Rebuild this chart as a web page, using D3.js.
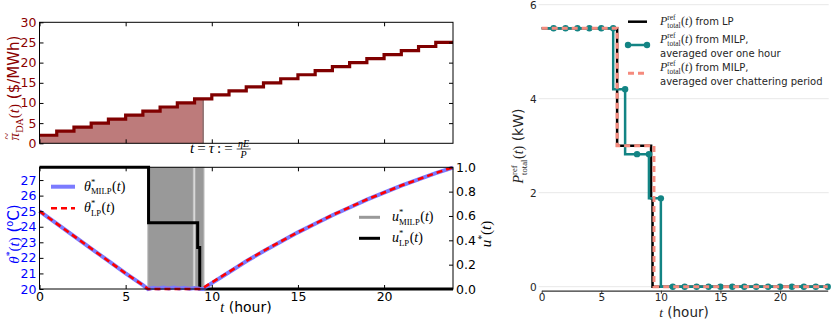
<!DOCTYPE html>
<html>
<head>
<meta charset="utf-8">
<script src="https://cdnjs.cloudflare.com/ajax/libs/d3/7.8.5/d3.min.js"></script>
<style>
  body { margin: 0; background: #fff; }
  svg { display: block; }
  svg text { white-space: pre; }
</style>
</head>
<body>
<script>
// * Data

// day-ahead price, one value per hour (0..23)
const priceDA = [2, 3, 4, 5, 6, 7, 8, 9, 10, 11, 12, 13, 14, 15, 16, 17, 18, 19, 20, 21, 22, 23, 24, 25];
const tauHour = 9.5;

// room temperature, LP solution
const thetaLPHours = [0, 1, 2, 3, 4, 5, 6, 6.3, 7, 8, 9, 9.4, 10, 11, 12, 13, 14, 15, 16, 17, 18, 19, 20, 21, 22, 23, 24];
const thetaLP = [25, 24.2, 23.4, 22.6, 21.8, 21.0, 20.25, 20, 20, 20, 20, 20, 20.42, 21.1, 21.8, 22.45, 23.05, 23.65, 24.2, 24.75, 25.25, 25.75, 26.2, 26.65, 27.05, 27.45, 27.82];

// room temperature, MILP solution (chatters a little at the lower bound)
const thetaMILPHours = [0, 1, 2, 3, 4, 5, 6, 6.3, 6.6, 6.9, 7.2, 7.5, 7.8, 8.1, 8.4, 8.7, 9.0, 9.3, 9.5, 10, 11, 12, 13, 14, 15, 16, 17, 18, 19, 20, 21, 22, 23, 24];
const thetaMILP = [25, 24.2, 23.4, 22.6, 21.8, 21.0, 20.25, 20, 20.08, 20.03, 20.1, 20.04, 20.09, 20.03, 20.08, 20.02, 20.06, 20.02, 20, 20.38, 21.08, 21.78, 22.43, 23.04, 23.64, 24.19, 24.74, 25.24, 25.74, 26.19, 26.64, 27.04, 27.44, 27.8];

// MILP on/off control: "on" intervals (hours)
const uMILPOnStart = [6.28, 9.02];
const uMILPOnEnd = [8.93, 9.55];

// LP control
const uLPHours = [0, 6.33, 9.18, 9.3, 24];
const uLP = [1, 0.545, 0.34, 0, 0];

// total reference power (kW)
const pLPHours = [0, 6.33, 9.18, 9.3, 24];
const pLP = [5.5, 3.0, 1.88, 0, 0];

const pHourlyHours = [0, 1, 2, 3, 4, 5, 6, 7, 8, 9, 10, 11, 12, 13, 14, 15, 16, 17, 18, 19, 20, 21, 22, 23, 24];
const pHourly = [5.5, 5.5, 5.5, 5.5, 5.5, 5.5, 5.5, 4.2, 2.82, 2.82, 1.88, 0, 0, 0, 0, 0, 0, 0, 0, 0, 0, 0, 0, 0, 0];

const pChatterHours = [0, 6.33, 9.42, 24];
const pChatter = [5.5, 3.0, 0, 0];

const xTicks = [0, 5, 10, 15, 20];

// * SVG canvas
const width = 831;
const height = 321;

const svg = d3.select("body")
	.append("svg")
	.attr("width", width)
	.attr("height", height);

const SERIF = "'Liberation Serif', 'DejaVu Serif', serif";
const SANS = "'DejaVu Sans', sans-serif";

// lays out a small math-like label piece by piece, returns group + width
// piece kinds: i = italic serif, r = roman serif, s = sans, stack = sup over sub, sup, sub, tilde-pi
function mathText(parent, pieces, size, color) {
	const g = parent.append("g").attr("fill", color);
	let x = 0;
	pieces.forEach((p) => {
		const fs = p.size || size;
		if (p.k === "stack") {
			const a = g.append("text").attr("x", x).attr("y", -fs * 0.42)
				.style("font-family", SERIF).style("font-size", fs * 0.62 + "px").text(p.sup);
			const b = g.append("text").attr("x", x).attr("y", fs * 0.26)
				.style("font-family", SERIF).style("font-size", fs * 0.62 + "px").text(p.sub);
			x += Math.max(a.node().getComputedTextLength(), b.node().getComputedTextLength()) + 0.5;
		} else if (p.k === "sup") {
			const a = g.append("text").attr("x", x).attr("y", -fs * 0.4)
				.style("font-family", p.f || SANS).style("font-size", fs * 0.65 + "px").text(p.t);
			x += a.node().getComputedTextLength();
		} else if (p.k === "sub") {
			const a = g.append("text").attr("x", x).attr("y", fs * 0.25)
				.style("font-family", SERIF).style("font-size", fs * 0.68 + "px").text(p.t);
			x += a.node().getComputedTextLength();
		} else if (p.k === "tilde") {
			const a = g.append("text").attr("x", x).attr("y", 0)
				.style("font-family", SERIF).style("font-style", "italic")
				.style("font-size", fs + "px").text(p.t);
			const w = a.node().getComputedTextLength();
			g.append("text").attr("x", x + w / 2 + 0.5).attr("y", -fs * 0.55).attr("text-anchor", "middle")
				.style("font-family", SERIF).style("font-size", fs * 0.8 + "px").text("~");
			x += w;
		} else {
			const a = g.append("text").attr("x", x).attr("y", 0)
				.style("font-family", p.k === "s" ? SANS : SERIF)
				.style("font-style", p.k === "i" ? "italic" : "normal")
				.style("font-size", fs + "px").text(p.t);
			x += a.node().getComputedTextLength();
		}
	});
	return { g, width: x };
}

// * TOP-LEFT: price
const xL = d3.scaleLinear().domain([0, 24]).range([39.5, 453]);
const yPrice = d3.scaleLinear().domain([0, 30]).range([143.3, 22.3]);
const priceRed = "#8b0000";

const priceStep = priceDA.map((v, i) => [i, v]).concat([[24, priceDA[priceDA.length - 1]]]);
const shaded = priceStep.filter((d) => d[0] < tauHour).concat([[tauHour, priceDA[Math.floor(tauHour)]]]);

svg.append("path")
	.datum(shaded)
	.attr("d", d3.area().curve(d3.curveStepAfter)
		.x((d) => xL(d[0])).y0(yPrice(0)).y1((d) => yPrice(d[1])))
	.attr("fill", "#bd7b7b");
svg.append("line")
	.attr("x1", xL(tauHour)).attr("x2", xL(tauHour))
	.attr("y1", yPrice(0)).attr("y2", yPrice(priceDA[Math.floor(tauHour)]))
	.attr("stroke", "#8c7070").attr("stroke-width", 1.5);

svg.append("path")
	.datum(priceStep)
	.attr("d", d3.line().curve(d3.curveStepAfter).x((d) => xL(d[0])).y((d) => yPrice(d[1])))
	.attr("fill", "none")
	.attr("stroke", "#800000")
	.attr("stroke-width", 3.2);

function classicAxes(g, axis, color) {
	g.call(axis);
	g.select(".domain").remove();
	g.selectAll(".tick line").attr("stroke", "#000");
	g.selectAll(".tick text")
		.attr("fill", color)
		.style("font-family", SANS)
		.style("font-size", "12.5px");
}

svg.append("g").attr("transform", `translate(${xL(0)},0)`)
	.call((g) => classicAxes(g, d3.axisLeft(yPrice).tickValues([0, 5, 10, 15, 20, 25, 30]).tickSize(-4).tickPadding(3), priceRed));
svg.append("g").attr("transform", `translate(${xL(24)},0)`)
	.call((g) => classicAxes(g, d3.axisRight(yPrice).tickValues([5, 10, 15, 20, 25]).tickSize(-4).tickFormat(""), "#000"));
svg.append("g").attr("transform", `translate(0,${yPrice(0)})`)
	.call((g) => classicAxes(g, d3.axisBottom(xL).tickValues(xTicks).tickSize(-4).tickFormat(""), "#000"));
svg.append("g").attr("transform", `translate(0,${yPrice(30)})`)
	.call((g) => classicAxes(g, d3.axisTop(xL).tickValues(xTicks).tickSize(-4).tickFormat(""), "#000"));
svg.append("rect")
	.attr("x", xL(0)).attr("y", yPrice(30))
	.attr("width", xL(24) - xL(0)).attr("height", yPrice(0) - yPrice(30))
	.attr("fill", "none").attr("stroke", "#000").attr("stroke-width", 1);

// y label (rotated)
{
	const lab = mathText(svg.append("g"), [
		{ k: "tilde", t: "\u03C0" }, { k: "sub", t: "DA" }, { k: "r", t: "(" }, { k: "i", t: "t" }, { k: "r", t: ")" },
		{ k: "s", t: " ($/MWh)" }], 15, priceRed);
	lab.g.attr("transform", `translate(19,${88 + lab.width / 2}) rotate(-90)`);
}

// t = tau := eta E / P
{
	const g = svg.append("g").attr("transform", "translate(190,153)");
	const m = mathText(g, [{ k: "i", t: "t" }, { k: "r", t: "\u2009=\u2009" }, { k: "i", t: "\u03C4" },
		{ k: "r", t: "\u2009:\u2009=\u2009" }], 15, "#000");
	const fx = m.width + 1;
	g.append("text").attr("x", fx + 7).attr("y", -6).attr("text-anchor", "middle")
		.style("font-family", SERIF).style("font-style", "italic").style("font-size", "10px").text("\u03B7E");
	g.append("line").attr("x1", fx).attr("x2", fx + 14).attr("y1", -4).attr("y2", -4)
		.attr("stroke", "#000").attr("stroke-width", 0.7);
	g.append("text").attr("x", fx + 7).attr("y", 4.5).attr("text-anchor", "middle")
		.style("font-family", SERIF).style("font-style", "italic").style("font-size", "10px").text("P");
}

// * BOTTOM-LEFT: temperature and control
const yTheta = d3.scaleLinear().domain([20, 27.82]).range([289, 167.3]);
const yU = d3.scaleLinear().domain([0, 1]).range([289, 167.3]);

// MILP control, chattering so fast it reads as a grey block
uMILPOnStart.forEach((s, i) => {
	svg.append("rect")
		.attr("x", xL(s)).attr("y", yU(1))
		.attr("width", xL(uMILPOnEnd[i]) - xL(s)).attr("height", yU(0) - yU(1))
		.attr("fill", "#999999")
		.attr("stroke", "#c4c4c4").attr("stroke-width", 1);
});

svg.append("path")
	.datum(uLPHours.map((h, i) => [h, uLP[i]]))
	.attr("d", d3.line().curve(d3.curveStepAfter).x((d) => xL(d[0])).y((d) => yU(d[1])))
	.attr("fill", "none").attr("stroke", "#000").attr("stroke-width", 3);

svg.append("path")
	.datum(thetaMILPHours.map((h, i) => [h, thetaMILP[i]]))
	.attr("d", d3.line().x((d) => xL(d[0])).y((d) => yTheta(d[1])))
	.attr("fill", "none").attr("stroke", "#7b7bff").attr("stroke-width", 4);

svg.append("path")
	.datum(thetaLPHours.map((h, i) => [h, thetaLP[i]]))
	.attr("d", d3.line().x((d) => xL(d[0])).y((d) => yTheta(d[1])))
	.attr("fill", "none").attr("stroke", "#ff0000").attr("stroke-width", 2.6)
	.attr("stroke-dasharray", "6,4");

svg.append("g").attr("transform", `translate(${xL(0)},0)`)
	.call((g) => classicAxes(g, d3.axisLeft(yTheta).tickValues([20, 21, 22, 23, 24, 25, 26, 27]).tickSize(-4).tickPadding(3), "#0000ff"));
svg.append("g").attr("transform", `translate(${xL(24)},0)`)
	.call((g) => classicAxes(g, d3.axisRight(yU).tickValues([0, 0.2, 0.4, 0.6, 0.8, 1]).tickSize(-4).tickPadding(3).tickFormat(d3.format(".1f")), "#000"));
svg.append("g").attr("transform", `translate(0,${yU(0)})`)
	.call((g) => classicAxes(g, d3.axisBottom(xL).tickValues(xTicks).tickSize(-4).tickPadding(3), "#000"));
svg.append("g").attr("transform", `translate(0,${yU(1)})`)
	.call((g) => classicAxes(g, d3.axisTop(xL).tickValues(xTicks).tickSize(-4).tickFormat(""), "#000"));
svg.append("rect")
	.attr("x", xL(0)).attr("y", yU(1))
	.attr("width", xL(24) - xL(0)).attr("height", yU(0) - yU(1))
	.attr("fill", "none").attr("stroke", "#000").attr("stroke-width", 1);

// labels
{
	const lab = mathText(svg.append("g"), [
		{ k: "i", t: "\u03B8" }, { k: "sup", t: "*", f: SERIF }, { k: "r", t: "(" }, { k: "i", t: "t" }, { k: "r", t: ")" },
		{ k: "s", t: " (" }, { k: "sup", t: "o" }, { k: "s", t: "C)" }], 15, "#0000ff");
	lab.g.attr("transform", `translate(19,${234 + lab.width / 2}) rotate(-90)`);
}
{
	const lab = mathText(svg.append("g"), [
		{ k: "i", t: "u" }, { k: "sup", t: "*", f: SERIF }, { k: "r", t: "(" }, { k: "i", t: "t" }, { k: "r", t: ")" }], 15, "#000");
	lab.g.attr("transform", `translate(491,${234 + lab.width / 2}) rotate(-90)`);
}
{
	const lab = mathText(svg.append("g"), [{ k: "i", t: "t" }, { k: "s", t: " (hour)" }], 14, "#000");
	lab.g.attr("transform", `translate(${246 - lab.width / 2},312)`);
}

// legends
function legendEntry(x, y, sample, pieces) {
	const g = svg.append("g").attr("transform", `translate(${x},${y})`);
	sample(g);
	const t = mathText(g, pieces, 14, "#000");
	t.g.attr("transform", "translate(33,4)");
}
legendEntry(51, 186.7, (g) => g.append("line").attr("x1", 0).attr("x2", 24)
	.attr("stroke", "#7b7bff").attr("stroke-width", 4),
	[{ k: "i", t: "\u03B8" }, { k: "stack", sup: "*", sub: "MILP" }, { k: "r", t: "(" }, { k: "i", t: "t" }, { k: "r", t: ")" }]);
legendEntry(51, 208.3, (g) => g.append("line").attr("x1", 0).attr("x2", 24)
	.attr("stroke", "#ff0000").attr("stroke-width", 2.6).attr("stroke-dasharray", "6,4"),
	[{ k: "i", t: "\u03B8" }, { k: "stack", sup: "*", sub: "LP" }, { k: "r", t: "(" }, { k: "i", t: "t" }, { k: "r", t: ")" }]);
legendEntry(359, 217.3, (g) => g.append("line").attr("x1", 0).attr("x2", 21)
	.attr("stroke", "#999999").attr("stroke-width", 3),
	[{ k: "i", t: "u" }, { k: "stack", sup: "*", sub: "MILP" }, { k: "r", t: "(" }, { k: "i", t: "t" }, { k: "r", t: ")" }]);
legendEntry(359, 238.3, (g) => g.append("line").attr("x1", 0).attr("x2", 21)
	.attr("stroke", "#000").attr("stroke-width", 3),
	[{ k: "i", t: "u" }, { k: "stack", sup: "*", sub: "LP" }, { k: "r", t: "(" }, { k: "i", t: "t" }, { k: "r", t: ")" }]);

// * RIGHT: total reference power
const xR = d3.scaleLinear().domain([0, 24]).range([541.7, 827.7]);
const yR = d3.scaleLinear().domain([0, 6]).range([286.7, 4.7]);
const teal = "#138484";
const salmon = "#f58a7d";

// grid
svg.append("g")
	.selectAll("line")
	.data([0, 2, 4, 6])
	.join("line")
	.attr("x1", xR(0) - 3).attr("x2", xR(24) + 1)
	.attr("y1", (d) => yR(d)).attr("y2", (d) => yR(d))
	.attr("stroke", "#e8e8e8").attr("stroke-width", 1);

svg.append("g")
	.selectAll("text")
	.data([0, 2, 4, 6])
	.join("text")
	.attr("x", xR(0) - 5).attr("y", (d) => yR(d) + 4)
	.attr("text-anchor", "end")
	.style("font-family", SANS).style("font-size", "10.5px").attr("fill", "#262626")
	.text((d) => d);

const xAxisR = svg.append("g").attr("transform", "translate(0,290.7)")
	.call(d3.axisBottom(xR).tickValues(xTicks).tickSize(3).tickSizeOuter(0).tickPadding(0));
xAxisR.select(".domain").attr("stroke", "#333").attr("stroke-width", 1.2);
xAxisR.selectAll(".tick line").attr("stroke", "#333");
xAxisR.selectAll(".tick text").attr("fill", "#262626").style("font-family", SANS).style("font-size", "10.5px");

const stepLine = (curve) => d3.line().curve(curve).x((d) => xR(d[0])).y((d) => yR(d[1]));

svg.append("path")
	.datum(pLPHours.map((h, i) => [h, pLP[i]]))
	.attr("d", stepLine(d3.curveStepAfter))
	.attr("fill", "none").attr("stroke", "#000").attr("stroke-width", 2.5);

const hourly = pHourlyHours.map((h, i) => [h, pHourly[i]]);
svg.append("path")
	.datum(hourly)
	.attr("d", stepLine(d3.curveStepBefore))
	.attr("fill", "none").attr("stroke", teal).attr("stroke-width", 2.5);
svg.append("g")
	.selectAll("circle")
	.data(hourly.slice(1))
	.join("circle")
	.attr("cx", (d) => xR(d[0])).attr("cy", (d) => yR(d[1]))
	.attr("r", 3.2)
	.attr("fill", teal);

svg.append("path")
	.datum(pChatterHours.map((h, i) => [h, pChatter[i]]))
	.attr("d", stepLine(d3.curveStepAfter))
	.attr("fill", "none").attr("stroke", salmon).attr("stroke-width", 3)
	.attr("stroke-dasharray", "6,4");

// axis labels
{
	const lab = mathText(svg.append("g"), [
		{ k: "i", t: "P" }, { k: "stack", sup: "ref", sub: "total" }, { k: "r", t: "(" }, { k: "i", t: "t" }, { k: "r", t: ")" },
		{ k: "s", t: " (kW)" }], 14, "#262626");
	lab.g.attr("transform", `translate(523,${146 + lab.width / 2}) rotate(-90)`);
}
{
	const lab = mathText(svg.append("g"), [{ k: "i", t: "t" }, { k: "s", t: " (hour)" }], 13.5, "#262626");
	lab.g.attr("transform", `translate(${684 - lab.width / 2},317)`);
}

// legend
function rLegendText(x, y, second) {
	const g = svg.append("g").attr("transform", `translate(${x},${y})`);
	mathText(g, [
		{ k: "i", t: "P" }, { k: "stack", sup: "ref", sub: "total" }, { k: "r", t: "(" }, { k: "i", t: "t" }, { k: "r", t: ")" },
		{ k: "s", t: second ? " from MILP," : " from LP", size: 10 }], 12, "#262626");
	if (second) {
		g.append("text").attr("x", 0).attr("y", 13.5)
			.style("font-family", SANS).style("font-size", "10px").attr("fill", "#262626")
			.text(second);
	}
}
svg.append("line").attr("x1", 628).attr("x2", 647).attr("y1", 21.7).attr("y2", 21.7)
	.attr("stroke", "#000").attr("stroke-width", 2.5);
rLegendText(660, 25);

svg.append("line").attr("x1", 628).attr("x2", 647).attr("y1", 45).attr("y2", 45)
	.attr("stroke", teal).attr("stroke-width", 2.5);
svg.append("circle").attr("cx", 628).attr("cy", 45).attr("r", 3.2).attr("fill", teal);
svg.append("circle").attr("cx", 647).attr("cy", 45).attr("r", 3.2).attr("fill", teal);
rLegendText(660, 43, "averaged over one hour");

svg.append("line").attr("x1", 628).attr("x2", 647).attr("y1", 73.3).attr("y2", 73.3)
	.attr("stroke", salmon).attr("stroke-width", 3).attr("stroke-dasharray", "6,4");
rLegendText(660, 71, "averaged over chattering period");
</script>
</body>
</html>
